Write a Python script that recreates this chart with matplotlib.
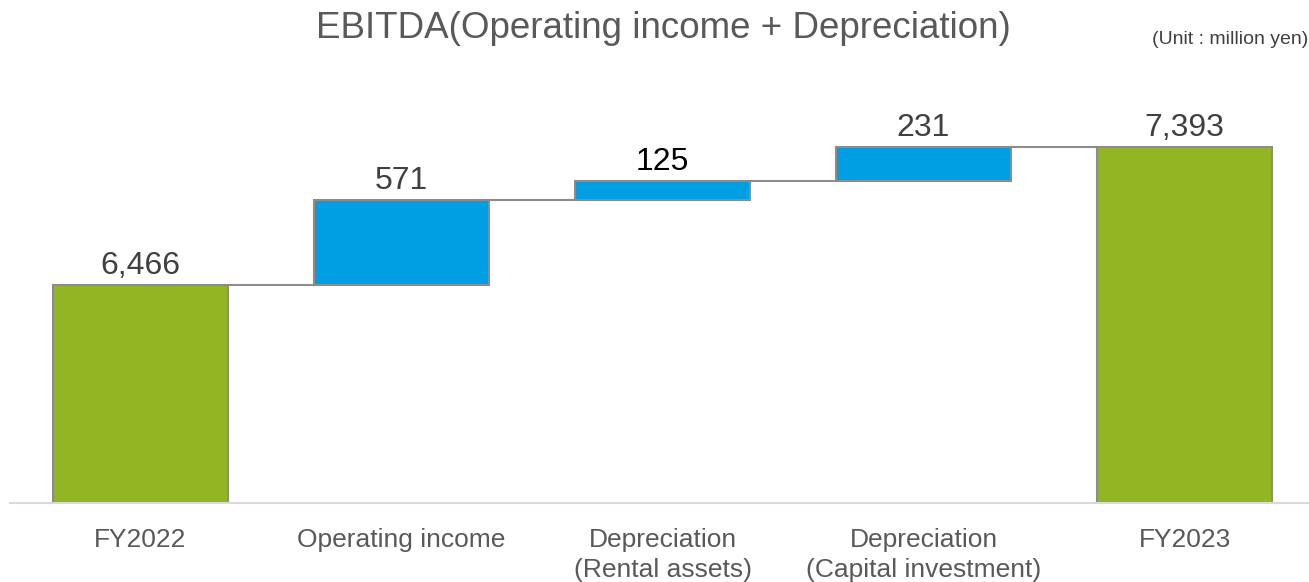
import matplotlib.pyplot as plt
import numpy as np

plt.rcParams['font.family'] = ['Liberation Sans', 'DejaVu Sans']

# data
categories = ["FY2022", "Operating income", "Depreciation\n(Rental assets)",
              "Depreciation\n(Capital investment)", "FY2023"]
values = [6466, 571, 125, 231, 7393]
is_total = [True, False, False, False, True]
labels = ["6,466", "571", "125", "231", "7,393"]

green = "#92b523"
blue = "#009fe3"
edge = "#8c8c8c"

fig = plt.figure(figsize=(13.09, 5.82), dpi=100)
ax = fig.add_axes([10 / 1309, 79 / 582, 1299 / 1309, 443 / 582])

x = np.arange(len(categories))
bottoms = []
heights = []
running = 0
for v, t in zip(values, is_total):
    if t:
        bottoms.append(0)
        heights.append(v)
        running = v
    else:
        bottoms.append(running)
        heights.append(v)
        running += v

colors = [green if t else blue for t in is_total]
w = 0.67
ax.bar(x, heights, bottom=bottoms, width=w, color=colors, edgecolor=edge,
       linewidth=1.5, zorder=2)

# connector lines
for i in range(len(x) - 1):
    level = bottoms[i] + heights[i]
    ax.plot([x[i] + w / 2, x[i + 1] - w / 2], [level, level], color=edge,
            linewidth=1.5, zorder=1)

label_colors = ["#404040", "#404040", "#000000", "#404040", "#404040"]
for i in range(len(x)):
    top = bottoms[i] + heights[i]
    ax.annotate(labels[i], (x[i], top), xytext=(0, 8), textcoords="offset points",
                ha="center", va="baseline", fontsize=23, color=label_colors[i])

ax.set_xlim(-0.5, 4.477)
ax.set_ylim(5000, 7976)
ax.set_xticks(x)
ax.set_xticklabels(categories, fontsize=19, color="#595959", linespacing=1.3)
ax.tick_params(axis="x", length=0, pad=18)
ax.set_yticks([])
for s in ["top", "right", "left"]:
    ax.spines[s].set_visible(False)
ax.spines["bottom"].set_color("#d9d9d9")
ax.spines["bottom"].set_linewidth(1.5)
ax.spines["bottom"].set_zorder(3)

fig.text(663 / 1309, 1 - 38 / 582, "EBITDA(Operating income + Depreciation)",
         ha="center", va="baseline", fontsize=26.5, color="#595959")
fig.text(1308 / 1309, 1 - 44 / 582, "(Unit : million yen)", ha="right",
         va="baseline", fontsize=14, color="#404040")

fig.savefig("out.png", dpi=100)
